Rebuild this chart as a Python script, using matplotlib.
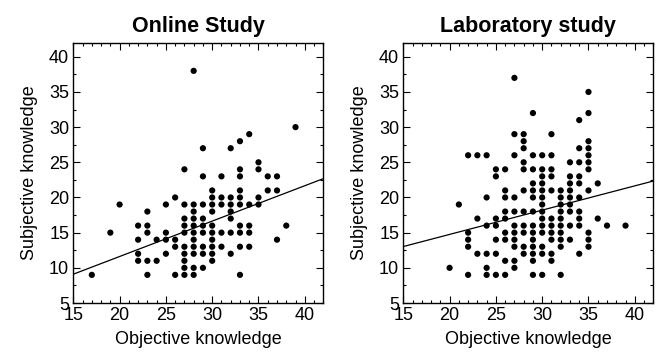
import matplotlib
matplotlib.use("Agg")
import matplotlib.pyplot as plt
from matplotlib.ticker import MultipleLocator

plt.rcParams['font.family'] = ['Liberation Sans', 'DejaVu Sans']

# Online study: objective knowledge (x), subjective knowledge (y)
online_x = [17, 19, 20,
            22, 22, 22, 22,
            23, 23, 23, 23, 23,
            24, 24,
            25, 25, 25, 25,
            26, 26, 26, 26,
            27, 27, 27, 27, 27, 27, 27, 27, 27, 27,
            28, 28, 28, 28, 28, 28, 28, 28, 28, 28, 28,
            29, 29, 29, 29, 29, 29, 29, 29, 29,
            30, 30, 30, 30, 30, 30, 30, 30, 30, 30,
            31, 31, 31, 31, 31,
            32, 32, 32, 32, 32, 32, 32,
            33, 33, 33, 33, 33, 33, 33, 33, 33, 33,
            34, 34, 34, 34, 34,
            35, 35, 35, 35,
            36, 36,
            37, 37, 37,
            38, 39]
online_y = [9, 15, 19,
            16, 14, 12, 11,
            18, 16, 15, 11, 9,
            14, 11,
            19, 15, 14, 12,
            20, 14, 13, 9,
            24, 19, 17, 16, 15, 13, 12, 11, 10, 9,
            38, 19, 18, 17, 16, 15, 14, 13, 12, 10, 9,
            27, 23, 19, 17, 16, 15, 13, 12, 10,
            21, 20, 19, 18, 16, 15, 14, 13, 12, 11,
            23, 20, 19, 15, 13,
            27, 20, 19, 18, 17, 15, 12,
            28, 24, 23, 21, 20, 19, 16, 15, 13, 9,
            29, 19, 16, 15, 13,
            25, 24, 20, 19,
            23, 21,
            23, 21, 14,
            16, 30]

# Laboratory study
lab_x = [20, 21,
         22, 22, 22, 22, 22,
         23, 23, 23,
         24, 24, 24, 24, 24, 24,
         25, 25, 25, 25, 25, 25, 25,
         26, 26, 26, 26, 26, 26, 26, 26, 26,
         27, 27, 27, 27, 27, 27, 27, 27, 27, 27, 27,
         28, 28, 28, 28, 28, 28, 28, 28, 28, 28, 28,
         29, 29, 29, 29, 29, 29, 29, 29, 29, 29, 29, 29, 29, 29,
         30, 30, 30, 30, 30, 30, 30, 30, 30, 30, 30, 30, 30, 30,
         31, 31, 31, 31, 31, 31, 31, 31, 31, 31, 31,
         32, 32, 32, 32, 32, 32, 32, 32, 32, 32,
         33, 33, 33, 33, 33, 33, 33, 33, 33,
         34, 34, 34, 34, 34, 34, 34, 34, 34, 34,
         35, 35, 35, 35, 35, 35, 35, 35, 35, 35, 35,
         36, 36, 37, 39]
lab_y = [10, 19,
         26, 15, 14, 13, 9,
         26, 17, 12,
         26, 20, 16, 12, 10, 9,
         24, 23, 17, 16, 14, 12, 9,
         24, 21, 20, 18, 17, 15, 14, 11, 9,
         37, 29, 26, 20, 18, 16, 15, 14, 13, 11, 10,
         29, 28, 27, 25, 24, 21, 18, 16, 15, 13, 12,
         32, 26, 24, 22, 21, 20, 18, 16, 15, 14, 13, 12, 11, 9,
         26, 24, 23, 22, 21, 20, 19, 18, 17, 16, 15, 13, 12, 9,
         29, 26, 24, 23, 21, 17, 16, 15, 14, 12, 11,
         21, 20, 19, 18, 17, 16, 15, 14, 13, 9,
         25, 23, 22, 21, 20, 19, 18, 16, 14,
         31, 27, 25, 23, 22, 20, 18, 17, 16, 12,
         35, 32, 28, 27, 26, 25, 24, 21, 15, 14, 13,
         22, 17, 16, 16]

# Fitted regression lines (intercept, slope)
online_fit = (1.55, 0.503)
lab_fit = (7.85, 0.345)

titles = ["Online Study", "Laboratory study"]
xlabel = "Objective knowledge"
ylabel = "Subjective knowledge"
xlim = (15, 42)
ylim = (5, 42)

fig = plt.figure(figsize=(6.59, 3.52), dpi=100)
positions = [[73.3 / 659, 49 / 352, 250 / 659, 260.3 / 352],
             [403.3 / 659, 49 / 352, 250 / 659, 260.3 / 352]]
datasets = [(online_x, online_y, online_fit), (lab_x, lab_y, lab_fit)]

for pos, (xs, ys, (b0, b1)), title in zip(positions, datasets, titles):
    ax = fig.add_axes(pos)
    ax.scatter(xs, ys, s=20, c='black', edgecolors='none', zorder=3, clip_on=False)
    ax.plot(list(xlim), [b0 + b1 * xlim[0], b0 + b1 * xlim[1]], color='black', lw=0.9)
    ax.set_xlim(*xlim)
    ax.set_ylim(*ylim)
    ax.xaxis.set_major_locator(MultipleLocator(5))
    ax.xaxis.set_minor_locator(MultipleLocator(1))
    ax.yaxis.set_major_locator(MultipleLocator(5))
    ax.yaxis.set_minor_locator(MultipleLocator(2.5))
    ax.tick_params(which='both', direction='in', top=True, right=True,
                   labelsize=13, width=0.8, pad=3)
    ax.tick_params(which='major', length=5)
    ax.tick_params(which='minor', length=2.5)
    for sp in ax.spines.values():
        sp.set_linewidth(1.0)
    ax.set_xlabel(xlabel, fontsize=13, labelpad=5)
    ax.set_ylabel(ylabel, fontsize=13, labelpad=8)
    ax.set_title(title, fontsize=15.5, fontweight='bold', pad=8)

fig.savefig("out.png", dpi=100)
